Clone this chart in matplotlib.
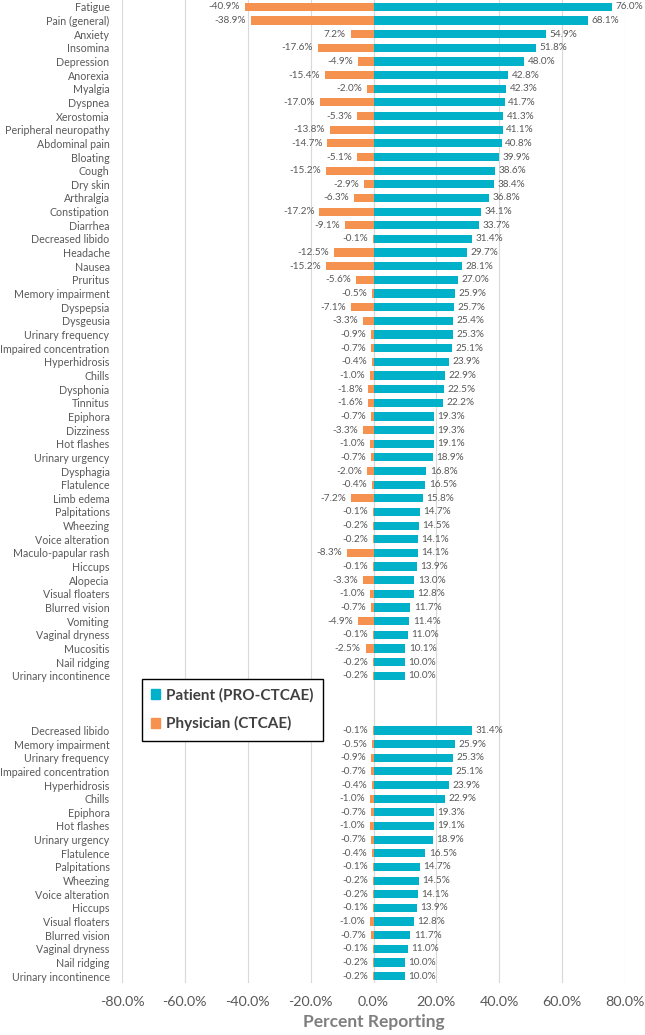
import matplotlib
matplotlib.use("Agg")
import matplotlib.pyplot as plt
from matplotlib.patches import Patch

plt.rcParams['font.family'] = ['Lato', 'DejaVu Sans']

# top block: all symptoms, sorted by patient reporting
top_symptoms = ["Fatigue", "Pain (general)", "Anxiety", "Insomina", "Depression",
                "Anorexia", "Myalgia", "Dyspnea", "Xerostomia", "Peripheral neuropathy",
                "Abdominal pain", "Bloating", "Cough", "Dry skin", "Arthralgia",
                "Constipation", "Diarrhea", "Decreased libido", "Headache", "Nausea",
                "Pruritus", "Memory impairment", "Dyspepsia", "Dysgeusia",
                "Urinary frequency", "Impaired concentration", "Hyperhidrosis", "Chills",
                "Dysphonia", "Tinnitus", "Epiphora", "Dizziness", "Hot flashes",
                "Urinary urgency", "Dysphagia", "Flatulence", "Limb edema", "Palpitations",
                "Wheezing", "Voice alteration", "Maculo-papular rash", "Hiccups",
                "Alopecia", "Visual floaters", "Blurred vision", "Vomiting",
                "Vaginal dryness", "Mucositis", "Nail ridging", "Urinary incontinence"]
top_patient = [76.0, 68.1, 54.9, 51.8, 48.0, 42.8, 42.3, 41.7, 41.3, 41.1,
               40.8, 39.9, 38.6, 38.4, 36.8, 34.1, 33.7, 31.4, 29.7, 28.1,
               27.0, 25.9, 25.7, 25.4, 25.3, 25.1, 23.9, 22.9, 22.5, 22.2,
               19.3, 19.3, 19.1, 18.9, 16.8, 16.5, 15.8, 14.7, 14.5, 14.1,
               14.1, 13.9, 13.0, 12.8, 11.7, 11.4, 11.0, 10.1, 10.0, 10.0]
top_physician = [-40.9, -38.9, -7.2, -17.6, -4.9, -15.4, -2.0, -17.0, -5.3, -13.8,
                 -14.7, -5.1, -15.2, -2.9, -6.3, -17.2, -9.1, -0.1, -12.5, -15.2,
                 -5.6, -0.5, -7.1, -3.3, -0.9, -0.7, -0.4, -1.0, -1.8, -1.6,
                 -0.7, -3.3, -1.0, -0.7, -2.0, -0.4, -7.2, -0.1, -0.2, -0.2,
                 -8.3, -0.1, -3.3, -1.0, -0.7, -4.9, -0.1, -2.5, -0.2, -0.2]

# bottom block: symptoms with very low physician reporting
bottom_symptoms = ["Decreased libido", "Memory impairment", "Urinary frequency",
                   "Impaired concentration", "Hyperhidrosis", "Chills", "Epiphora",
                   "Hot flashes", "Urinary urgency", "Flatulence", "Palpitations",
                   "Wheezing", "Voice alteration", "Hiccups", "Visual floaters",
                   "Blurred vision", "Vaginal dryness", "Nail ridging",
                   "Urinary incontinence"]
bottom_patient = [31.4, 25.9, 25.3, 25.1, 23.9, 22.9, 19.3, 19.1, 18.9, 16.5,
                  14.7, 14.5, 14.1, 13.9, 12.8, 11.7, 11.0, 10.0, 10.0]
bottom_physician = [-0.1, -0.5, -0.9, -0.7, -0.4, -1.0, -0.7, -1.0, -0.7, -0.4,
                    -0.1, -0.2, -0.2, -0.1, -1.0, -0.7, -0.1, -0.2, -0.2]

# the source prints the Anxiety label without its minus sign
label_fix = {"Anxiety": "7.2%"}

N_GAP = 3
TEAL = "#00B1C9"
ORANGE = "#F5924F"
TXT = "#595959"

symptoms = top_symptoms + [""] * N_GAP + bottom_symptoms
patient = top_patient + [None] * N_GAP + bottom_patient
physician = top_physician + [None] * N_GAP + bottom_physician
ys = list(range(len(symptoms)))

fig = plt.figure(figsize=(6.45, 10.35), dpi=100)
ax = fig.add_axes([122 / 645, 52 / 1035, 503 / 645, 983 / 1035])

for y, name, p, d in zip(ys, symptoms, patient, physician):
    if p is None:
        continue
    ax.barh(y, p, height=0.6, color=TEAL, zorder=3)
    ax.barh(y, d, height=0.6, color=ORANGE, zorder=3)
    ax.annotate(f"{p:.1f}%", (p, y), xytext=(2.5, 0), textcoords="offset points",
                ha="left", va="center", fontsize=7.2, color=TXT)
    lab = label_fix.get(name, f"{d:.1f}%") if y < len(top_symptoms) else f"{d:.1f}%"
    ax.annotate(lab, (d, y), xytext=(-3.5, 0), textcoords="offset points",
                ha="right", va="center", fontsize=7.2, color=TXT)

ax.set_xlim(-80, 80)
ax.set_ylim(len(symptoms) - 0.5, -0.5)
ax.set_yticks(ys)
ax.set_yticklabels(symptoms, fontsize=7.7, color=TXT)
xt = list(range(-80, 81, 20))
ax.set_xticks(xt)
ax.set_xticklabels([f"{v:.1f}%" for v in xt], fontsize=10.3, color=TXT)
ax.tick_params(axis="y", length=0, pad=9)
ax.tick_params(axis="x", length=0, pad=9)
for s in ax.spines.values():
    s.set_visible(False)
ax.grid(axis="x", color="#D9D9D9", linewidth=0.8, zorder=0)
ax.axvline(0, color="#D9D9D9", linewidth=0.8, zorder=1)
ax.set_xlabel("Percent Reporting", fontsize=12.5, fontweight="bold", color="#7F7F7F",
              labelpad=5)

handles = [Patch(color=TEAL, label="Patient (PRO-CTCAE)"),
           Patch(color=ORANGE, label="Physician (CTCAE)")]
leg = fig.legend(handles=handles, loc="upper left", bbox_to_anchor=(142 / 645, 1 - 679 / 1035),
                 bbox_transform=fig.transFigure, borderaxespad=0, fancybox=False,
                 edgecolor="black", framealpha=1, handlelength=0.6, handleheight=0.6,
                 handletextpad=0.4, labelspacing=0.9, borderpad=0.6,
                 prop={"size": 11, "weight": "bold"})
leg.get_frame().set_linewidth(1.0)
for t in leg.get_texts():
    t.set_color("#404040")

fig.savefig("out.png", dpi=100)
